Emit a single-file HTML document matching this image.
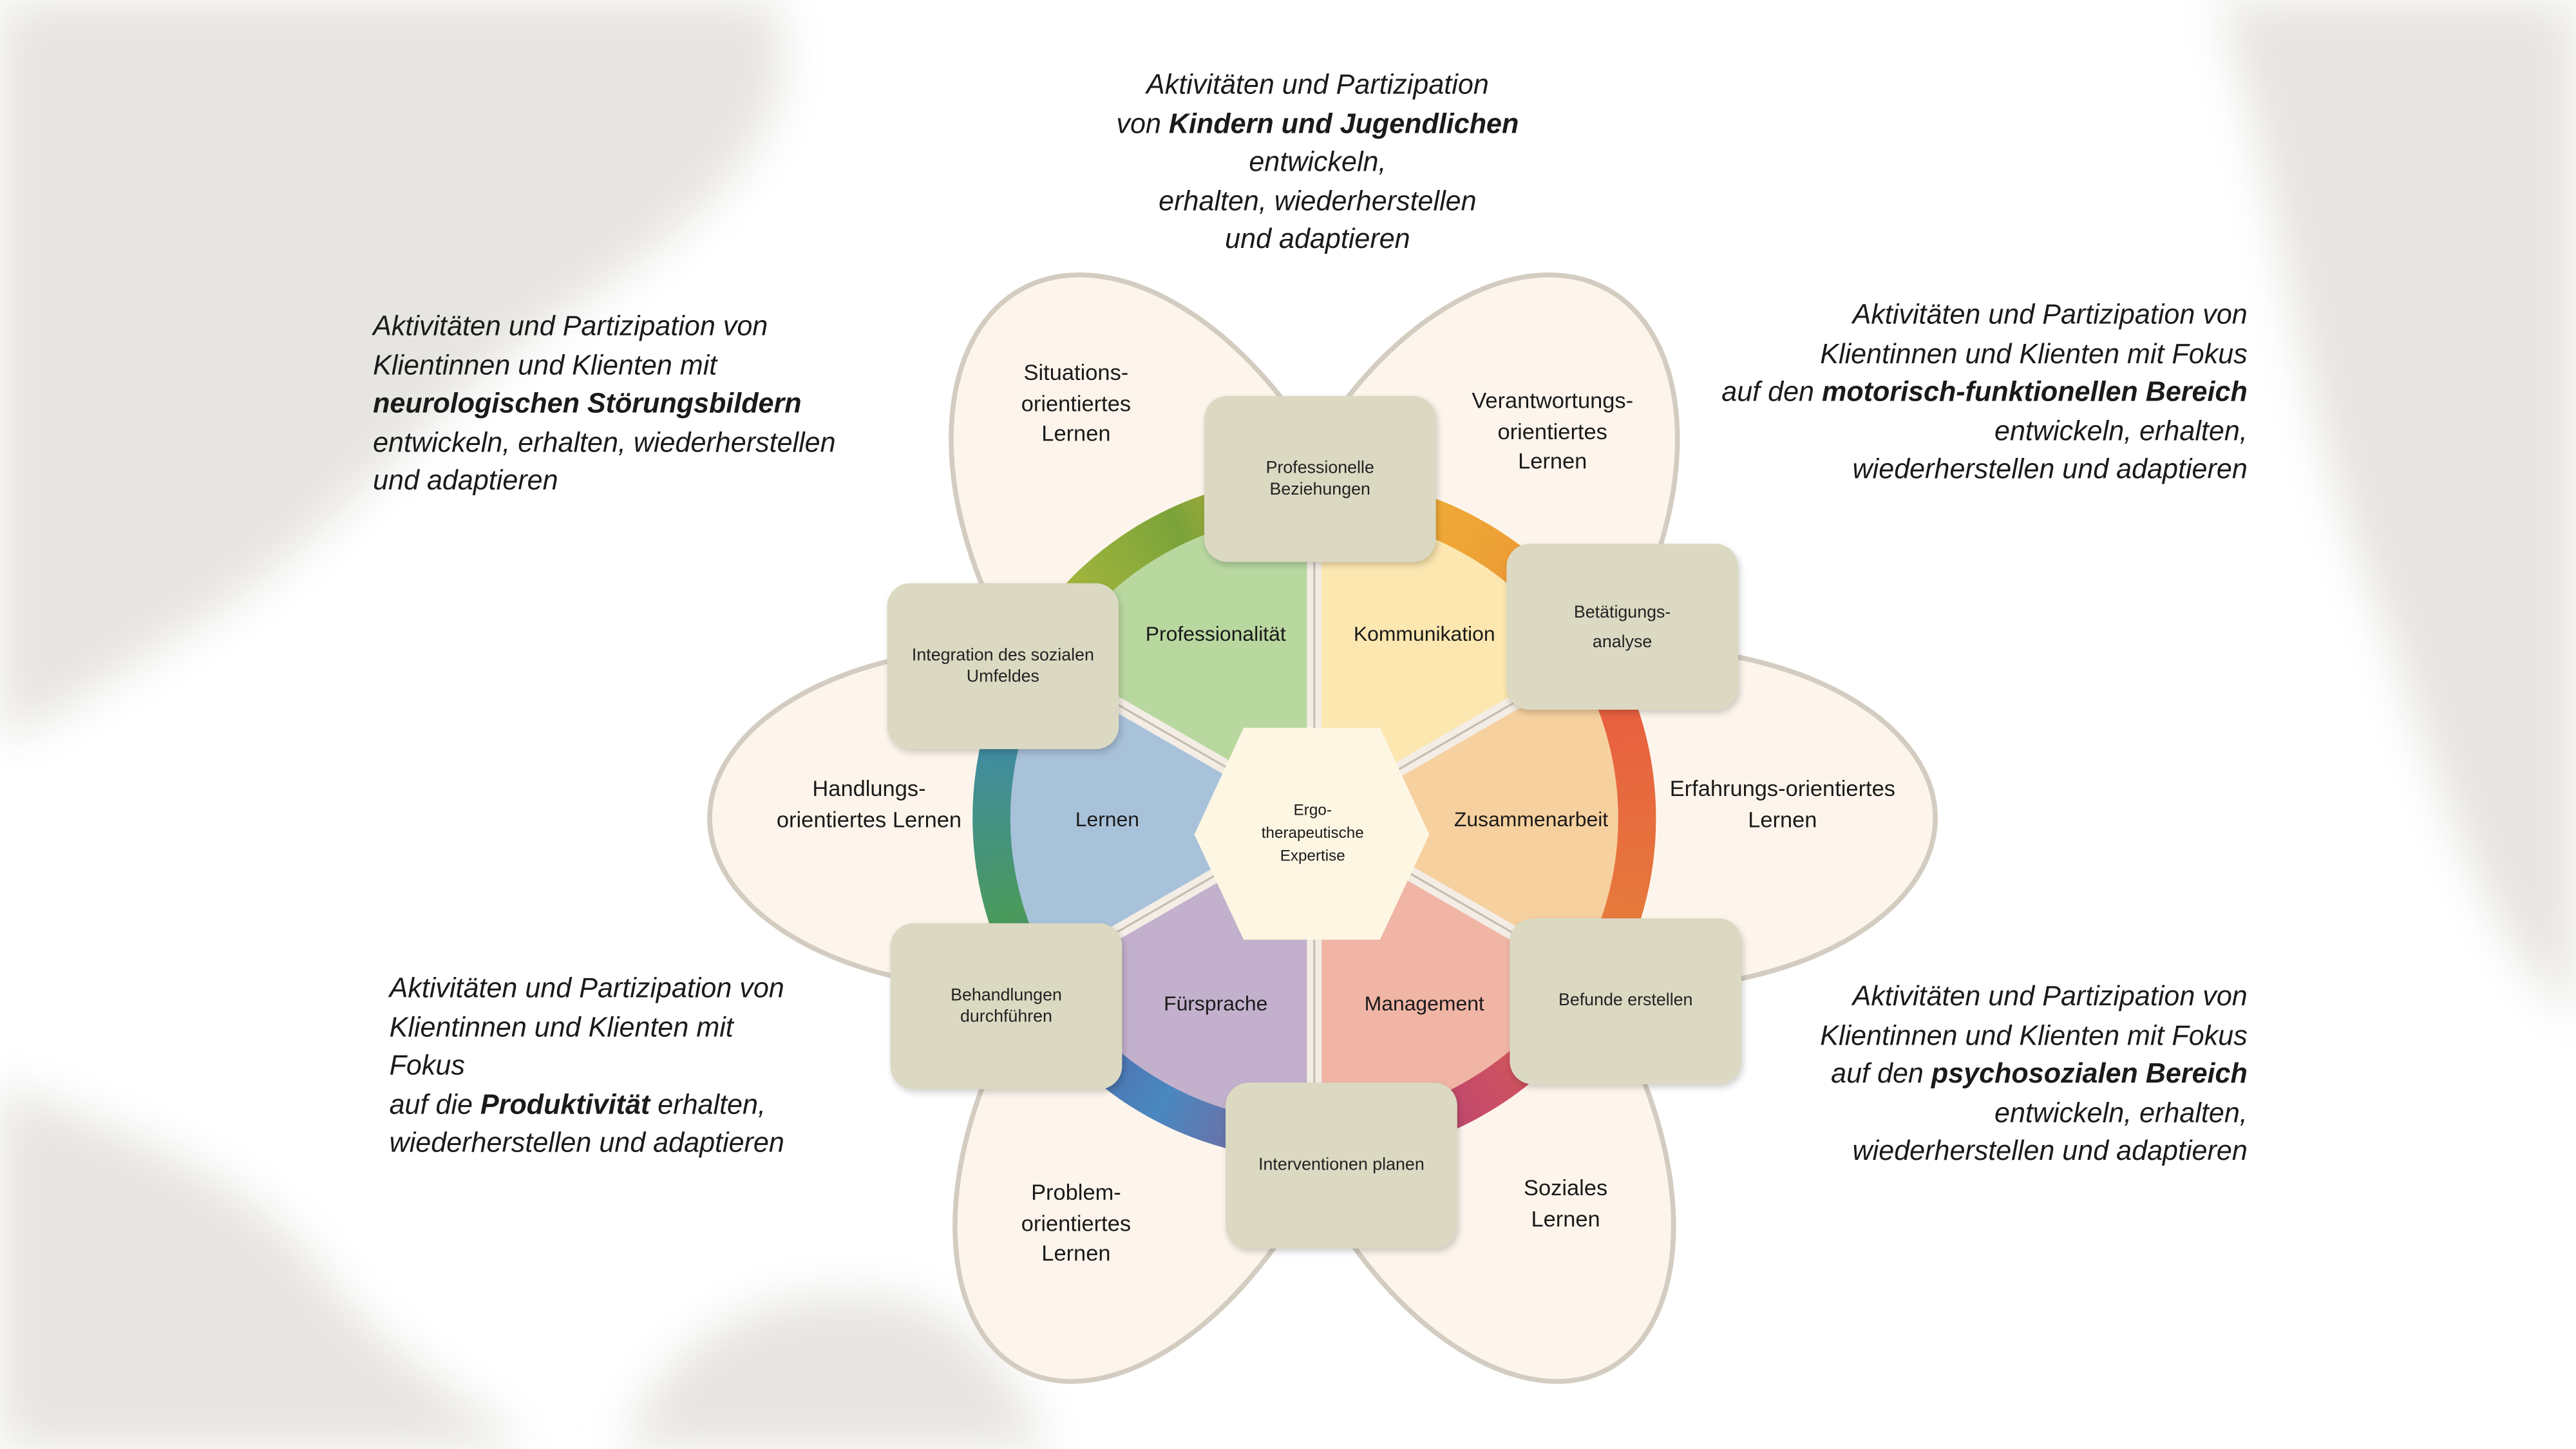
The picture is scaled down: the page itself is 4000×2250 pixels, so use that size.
<!DOCTYPE html>
<html><head><meta charset="utf-8"><style>
html,body{margin:0;padding:0;width:4000px;height:2250px;overflow:hidden;background:#fff}
#s{position:absolute;left:0;top:0;width:1568px;height:882px;transform:scale(2.55102);transform-origin:0 0;font-family:"Liberation Sans",sans-serif;color:#1a1a1a}
.a{position:absolute}
.t{position:absolute;transform:translate(-50%,-50%);text-align:center;white-space:nowrap}
.box{position:absolute;width:141px;height:101px;background:#dcd9c3;border-radius:14px;box-shadow:1px 2px 4px rgba(0,0,0,.18);display:flex;align-items:center;justify-content:center;text-align:center;font-size:10.5px;line-height:13px;color:#222}
.c{position:absolute;font-style:italic;font-size:16.9px;line-height:23.5px;white-space:nowrap;color:#1a1a1a}
.c b{font-weight:bold}
.p{font-size:13.5px;line-height:18.5px}
.sec{font-size:12.5px}
</style></head><body><div id="s">
<svg class="a" width="1568" height="882" style="left:0;top:0">
<defs>
<filter id="bl" x="-50%" y="-50%" width="200%" height="200%"><feGaussianBlur stdDeviation="14"/></filter>
</defs>
<g filter="url(#bl)" fill="#e7e5e1">
<path d="M0 0 L470 0 C500 80 420 140 330 200 C250 260 200 330 120 380 C70 410 30 440 0 450 Z"/>
<path d="M1350 0 L1568 0 L1568 620 C1500 560 1480 450 1440 350 C1400 250 1390 120 1350 0 Z"/>
<path d="M0 660 C80 690 160 720 200 780 C240 830 300 860 320 882 L0 882 Z"/>
<path d="M380 882 C400 820 460 780 540 790 C600 800 620 850 640 882 Z"/>
</g>
</svg>
<svg class="a" width="1568" height="882" style="left:0;top:0">
<g fill="#fdf5ec" stroke="#d3ccc0" stroke-width="3">
<ellipse cx="998" cy="498" rx="180" ry="104"/>
<ellipse cx="612" cy="498" rx="180" ry="104"/>
<ellipse cx="800" cy="498" rx="180" ry="110" transform="rotate(-61 800 498) translate(188 0)"/>
<ellipse cx="800" cy="498" rx="180" ry="110" transform="rotate(-119 800 498) translate(188 0)"/>
<ellipse cx="800" cy="498" rx="180" ry="104" transform="rotate(62 800 498) translate(200 0)"/>
<ellipse cx="800" cy="498" rx="180" ry="104" transform="rotate(118 800 498) translate(200 0)"/>
</g>
</svg>
<div class="a" style="left:592px;top:290px;width:416px;height:416px;border-radius:50%;background:conic-gradient(#f2b63a 0deg,#eda035 35deg,#e8603f 72deg,#e67a3c 108deg,#d55858 135deg,#c44a6a 152deg,#8a5a90 180deg,#4a88c0 208deg,#5068a8 228deg,#4a9a5c 252deg,#3f8aa8 285deg,#a8b83c 310deg,#7aa33a 335deg,#f2b63a 360deg)"></div>
<div class="a" style="left:615px;top:313px;width:370px;height:370px;border-radius:50%;background:conic-gradient(#fce7b0 0deg 60deg,#f6d09e 60deg 120deg,#f0b5a5 120deg 180deg,#c2b0cc 180deg 240deg,#a8c2da 240deg 300deg,#b9d8a0 300deg 360deg)"></div>
<svg class="a" width="1568" height="882" style="left:0;top:0">
<g stroke="#f3ede5" stroke-width="9">
<line x1="800" y1="498" x2="800" y2="312"/><line x1="800" y1="498" x2="800" y2="684"/>
<line x1="800" y1="498" x2="961" y2="405"/><line x1="800" y1="498" x2="639" y2="591"/>
<line x1="800" y1="498" x2="961" y2="591"/><line x1="800" y1="498" x2="639" y2="405"/>
</g>
<g stroke="#c4bcae" stroke-width="1.2">
<line x1="800" y1="498" x2="800" y2="312"/><line x1="800" y1="498" x2="800" y2="684"/>
<line x1="800" y1="498" x2="961" y2="405"/><line x1="800" y1="498" x2="639" y2="591"/>
<line x1="800" y1="498" x2="961" y2="591"/><line x1="800" y1="498" x2="639" y2="405"/>
</g>
<polygon points="727,508 757,443 840,443 870,508 840,572 757,572" fill="#fdf6e3"/>
</svg>
<div class="t sec" style="left:740px;top:386px">Professionalität</div>
<div class="t sec" style="left:867px;top:386px">Kommunikation</div>
<div class="t sec" style="left:674px;top:499px">Lernen</div>
<div class="t sec" style="left:932px;top:499px">Zusammenarbeit</div>
<div class="t sec" style="left:740px;top:611px">Fürsprache</div>
<div class="t sec" style="left:867px;top:611px">Management</div>
<div class="t" style="left:799px;top:508px;font-size:9.5px;line-height:14px">Ergo-<br>therapeutische<br>Expertise</div>
<div class="box" style="left:733px;top:241px">Professionelle<br>Beziehungen</div>
<div class="box" style="left:917px;top:331px;line-height:18px">Betätigungs-<br>analyse</div>
<div class="box" style="left:919px;top:559px">Befunde erstellen</div>
<div class="box" style="left:746px;top:659px">Interventionen planen</div>
<div class="box" style="left:542px;top:562px">Behandlungen<br>durchführen</div>
<div class="box" style="left:540px;top:355px">Integration des sozialen<br>Umfeldes</div>
<div class="t p" style="left:655px;top:246px">Situations-<br>orientiertes<br>Lernen</div>
<div class="t p" style="left:945px;top:263px">Verantwortungs-<br>orientiertes<br>Lernen</div>
<div class="t p" style="left:529px;top:490px">Handlungs-<br>orientiertes Lernen</div>
<div class="t p" style="left:1085px;top:490px">Erfahrungs-orientiertes<br>Lernen</div>
<div class="t p" style="left:655px;top:745px">Problem-<br>orientiertes<br>Lernen</div>
<div class="t p" style="left:953px;top:733px">Soziales<br>Lernen</div>
<div class="c" style="left:602px;top:40px;width:400px;text-align:center">Aktivitäten und Partizipation<br>von <b>Kindern und Jugendlichen</b><br>entwickeln,<br>erhalten, wiederherstellen<br>und adaptieren</div>
<div class="c" style="left:227px;top:187px">Aktivitäten und Partizipation von<br>Klientinnen und Klienten mit<br><b>neurologischen Störungsbildern</b><br>entwickeln, erhalten, wiederherstellen<br>und adaptieren</div>
<div class="c" style="right:200px;top:180px;text-align:right">Aktivitäten und Partizipation von<br>Klientinnen und Klienten mit Fokus<br>auf den <b>motorisch-funktionellen Bereich</b><br>entwickeln, erhalten,<br>wiederherstellen und adaptieren</div>
<div class="c" style="left:237px;top:590px">Aktivitäten und Partizipation von<br>Klientinnen und Klienten mit<br>Fokus<br>auf die <b>Produktivität</b> erhalten,<br>wiederherstellen und adaptieren</div>
<div class="c" style="right:200px;top:595px;text-align:right">Aktivitäten und Partizipation von<br>Klientinnen und Klienten mit Fokus<br>auf den <b>psychosozialen Bereich</b><br>entwickeln, erhalten,<br>wiederherstellen und adaptieren</div>
</div></body></html>
